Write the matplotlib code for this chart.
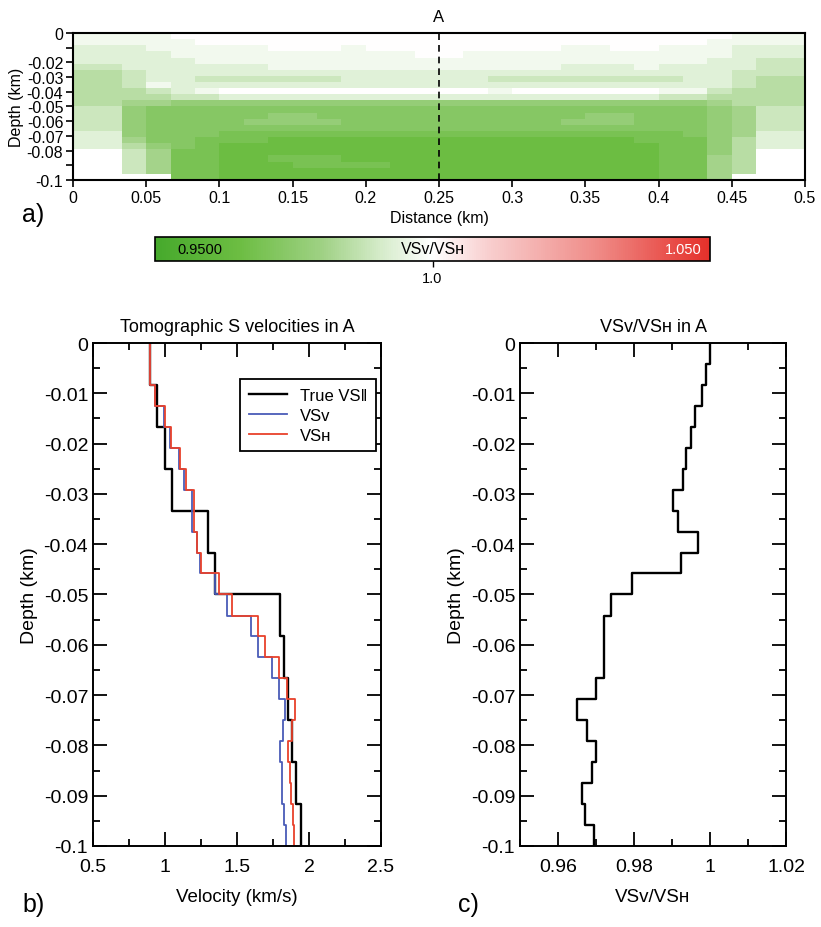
"""
Section A: VSv/VSH cross-section, tomographic S velocity profiles and
anisotropy ratio at distance 0.25 km
"""
import numpy as np
import matplotlib
matplotlib.use('Agg')
import matplotlib.pyplot as plt
from matplotlib.colors import LinearSegmentedColormap, Normalize
from matplotlib.cm import ScalarMappable
from matplotlib.ticker import MultipleLocator, FormatStrFormatter, FixedLocator, FixedFormatter

plt.rcParams['font.family'] = ['Liberation Sans', 'DejaVu Sans']
plt.rcParams['axes.unicode_minus'] = False

# Layer boundaries of the model (km, negative downwards), 24 layers
depth_edges = [0.0, -0.0042, -0.0083, -0.0125, -0.0167, -0.0208, -0.025,
               -0.0292, -0.0333, -0.0375, -0.0417, -0.0458, -0.05, -0.0542,
               -0.0583, -0.0625, -0.0667, -0.0708, -0.075, -0.0792, -0.0833,
               -0.0875, -0.0917, -0.0958, -0.1]

# Velocity profiles in A (km/s), one value per layer
vs_true = [0.895, 0.895, 0.947, 0.947, 0.998, 0.998, 1.045, 1.045,
           1.296, 1.296, 1.348, 1.348, 1.800, 1.800, 1.828, 1.828,
           1.854, 1.854, 1.882, 1.882, 1.908, 1.908, 1.947, 1.947]
vs_v = [0.898, 0.897, 0.928, 0.996, 1.035, 1.098, 1.135, 1.188,
        1.190, 1.220, 1.242, 1.348, 1.430, 1.598, 1.645, 1.740,
        1.794, 1.835, 1.820, 1.800, 1.809, 1.813, 1.828, 1.837]
vs_h = [0.898, 0.898, 0.930, 1.000, 1.040, 1.105, 1.143, 1.200,
        1.200, 1.224, 1.252, 1.376, 1.467, 1.644, 1.692, 1.791,
        1.850, 1.900, 1.882, 1.856, 1.867, 1.876, 1.890, 1.895]

# VSv/VSH ratio in A, one value per layer
ratio_a = [1.000, 0.999, 0.998, 0.996, 0.995, 0.9937, 0.9928, 0.9903,
           0.9917, 0.9969, 0.9923, 0.9794, 0.974, 0.972, 0.972, 0.972,
           0.970, 0.965, 0.9675, 0.970, 0.969, 0.9664, 0.967, 0.9695]

# Cross-section: 30 columns of 1/60 km, ratio coded by level ('.' = no data)
level_values = [1.000, 0.997, 0.993, 0.989, 0.985, 0.981, 0.977, 0.973, 0.969, 0.965]
section_rows = [
    "11 1 1 00 000000 000000 000000 00 0 1 11",
    "11 1 1 10 000000 000000 000000 00 1 1 11",
    "22 2 1 11 110001 000000 001100 11 1 2 22",
    "22 2 2 11 111111 110011 111111 11 1 2 22",
    "22 2 2 21 111111 111111 111111 11 2 2 33",
    "33 2 2 22 221111 111111 112221 22 2 2 33",
    "44 3 2 22 222222 222222 222222 22 2 3 33",
    "44 3 2 23 333332 222223 333333 32 2 3 44",
    "44 3 1 22 222222 222222 222222 22 2 3 44",
    "44 4 3 21 000000 000001 000000 11 3 4 44",
    "44 4 4 33 222222 222222 222222 33 4 4 44",
    "44 5 5 66 666666 666666 666666 66 5 4 44",
    "33 6 7 77 777777 777777 777777 77 6 5 33",
    "33 6 7 77 776677 777777 777667 77 6 5 33",
    "33 6 7 77 766667 777777 776667 77 6 5 33",
    "33 6 7 77 777777 777777 777777 77 6 5 33",
    "22 6 7 77 888888 888888 888888 87 6 5 22",
    "22 5 7 78 889999 999999 999998 88 6 4 22",
    "22 4 6 78 999999 999999 999999 88 6 4 22",
    ".. 3 5 88 999999 999999 999999 88 6 4 ..",
    ".. 3 5 88 998889 999999 999999 88 5 4 ..",
    ".. 3 5 88 999888 899999 999999 88 5 4 ..",
    ".. 3 5 88 999999 999999 999999 88 5 4 ..",
    ".. . . 88 999999 999999 999999 88 5 . ..",
]
distance_edges = np.linspace(0.0, 0.5, 31)
profile_distance = 0.25

section_yticks = [0, -0.01, -0.02, -0.03, -0.04, -0.05, -0.06, -0.07, -0.08, -0.09, -0.1]
section_ylabels = ['0', '', '-0.02', '-0.03', '-0.04', '-0.05', '-0.06', '-0.07', '-0.08', '', '-0.1']

VSV = 'VS\u1d20'
VSH = 'VS\u029c'


def step_profile(values, edges):
    """Turn per-layer values into a staircase line (x = value, y = depth)"""
    edges = np.asarray(edges)
    x = np.repeat(values, 2)
    y = np.column_stack([edges[:-1], edges[1:]]).ravel()
    return x, y


def style_profile_axes(ax):
    ax.tick_params(which='both', direction='in', top=True, right=True,
                   labelsize=14, width=1.3)
    ax.tick_params(which='major', length=10)
    ax.tick_params(which='minor', length=5)
    ax.tick_params(axis='x', which='both', pad=9)
    for sp in ax.spines.values():
        sp.set_linewidth(1.4)


cmap = LinearSegmentedColormap.from_list('green_white_red', [
    (0.00, '#46a92c'), (0.15, '#6cbd42'), (0.30, '#9fd184'), (0.40, '#d2eac6'),
    (0.50, '#ffffff'), (0.60, '#f8cfcf'), (0.80, '#ef8a86'), (1.00, '#e5302a')])
norm = Normalize(vmin=0.95, vmax=1.05)

fig = plt.figure(figsize=(8.21, 9.28), dpi=100)

# ---- a) cross-section
ax_a = fig.add_axes([0.0889, 0.805, 0.8916, 0.1584])
grid = np.array([[np.nan if c == '.' else level_values[int(c)]
                  for c in row.replace(' ', '')] for row in section_rows])
ax_a.pcolormesh(distance_edges, depth_edges, np.ma.masked_invalid(grid),
                cmap=cmap, norm=norm, shading='flat')
ax_a.axvline(profile_distance, color='k', ls=(0, (4, 3)), lw=1.2)
ax_a.text(profile_distance, 1.06, 'A', transform=ax_a.get_xaxis_transform(),
          ha='center', va='bottom', fontsize=12)
ax_a.set_xlim(0, 0.5)
ax_a.set_ylim(-0.1, 0)
ax_a.xaxis.set_major_locator(MultipleLocator(0.05))
ax_a.xaxis.set_major_formatter(FormatStrFormatter('%g'))
ax_a.yaxis.set_major_locator(FixedLocator(section_yticks))
ax_a.yaxis.set_major_formatter(FixedFormatter(section_ylabels))
ax_a.tick_params(direction='out', length=5, width=1.2, labelsize=11.5, pad=2)
ax_a.set_xlabel('Distance (km)', fontsize=11.5, labelpad=4)
ax_a.set_ylabel('Depth (km)', fontsize=11.5, labelpad=2)
for sp in ax_a.spines.values():
    sp.set_linewidth(1.5)

# ---- colour bar
cax = fig.add_axes([0.1888, 0.7177, 0.676, 0.0259])
cb = fig.colorbar(ScalarMappable(norm=norm, cmap=cmap), cax=cax,
                  orientation='horizontal', ticks=[1.0])
cb.ax.set_xticklabels(['1.0'])
cb.ax.tick_params(labelsize=10.5, length=4, width=1)
cb.outline.set_linewidth(1.2)
cax.text(0.04, 0.5, '0.9500', transform=cax.transAxes, ha='left', va='center', fontsize=10.5)
cax.text(0.5, 0.5, VSV + '/' + VSH, transform=cax.transAxes, ha='center', va='center', fontsize=11.5)
cax.text(0.985, 0.5, '1.050', transform=cax.transAxes, ha='right', va='center',
         fontsize=10.5, color='white')

# ---- b) velocity profiles
ax_b = fig.add_axes([0.1133, 0.0873, 0.3508, 0.542])
x, y = step_profile(vs_true, depth_edges)
ax_b.plot(x, y, color='black', lw=1.7, label='True VS\u2016')
x, y = step_profile(vs_v, depth_edges)
ax_b.plot(x, y, color='#4a5cb8', lw=1.3, label=VSV)
x, y = step_profile(vs_h, depth_edges)
ax_b.plot(x, y, color='#e8412b', lw=1.3, label=VSH)
ax_b.set_xlim(0.5, 2.5)
ax_b.set_ylim(-0.1, 0)
ax_b.xaxis.set_major_locator(MultipleLocator(0.5))
ax_b.xaxis.set_minor_locator(MultipleLocator(0.25))
ax_b.yaxis.set_major_locator(MultipleLocator(0.01))
ax_b.yaxis.set_minor_locator(MultipleLocator(0.005))
ax_b.xaxis.set_major_formatter(FormatStrFormatter('%g'))
ax_b.yaxis.set_major_formatter(FormatStrFormatter('%g'))
style_profile_axes(ax_b)
ax_b.set_title('Tomographic S velocities in A', fontsize=13, pad=9)
ax_b.set_xlabel('Velocity (km/s)', fontsize=13.5, labelpad=9)
ax_b.set_ylabel('Depth (km)', fontsize=14, labelpad=4)
leg = ax_b.legend(loc='upper right', bbox_to_anchor=(0.983, 0.928), borderaxespad=0,
                  fontsize=12, fancybox=False, edgecolor='black', framealpha=1,
                  handlelength=2.3, borderpad=0.5, labelspacing=0.3)
leg.get_frame().set_linewidth(1.3)

# ---- c) VSv/VSH ratio
ax_c = fig.add_axes([0.6334, 0.0873, 0.324, 0.542])
x, y = step_profile(ratio_a, depth_edges)
ax_c.plot(x, y, color='black', lw=1.7)
ax_c.set_xlim(0.95, 1.02)
ax_c.set_ylim(-0.1, 0)
ax_c.xaxis.set_major_locator(MultipleLocator(0.02))
ax_c.xaxis.set_minor_locator(MultipleLocator(0.01))
ax_c.yaxis.set_major_locator(MultipleLocator(0.01))
ax_c.yaxis.set_minor_locator(MultipleLocator(0.005))
ax_c.xaxis.set_major_formatter(FormatStrFormatter('%g'))
ax_c.yaxis.set_major_formatter(FormatStrFormatter('%g'))
style_profile_axes(ax_c)
ax_c.set_title(VSV + '/' + VSH + ' in A', fontsize=13, pad=9)
ax_c.set_xlabel(VSV + '/' + VSH, fontsize=13.5, labelpad=9)
ax_c.set_ylabel('Depth (km)', fontsize=14, labelpad=4)

# panel letters
fig.text(22 / 821, 1 - 215 / 928, 'a)', fontsize=18, va='center')
fig.text(22 / 821, 1 - 905 / 928, 'b)', fontsize=18, va='center')
fig.text(458 / 821, 1 - 905 / 928, 'c)', fontsize=18, va='center')

fig.savefig('out.png', dpi=100)
